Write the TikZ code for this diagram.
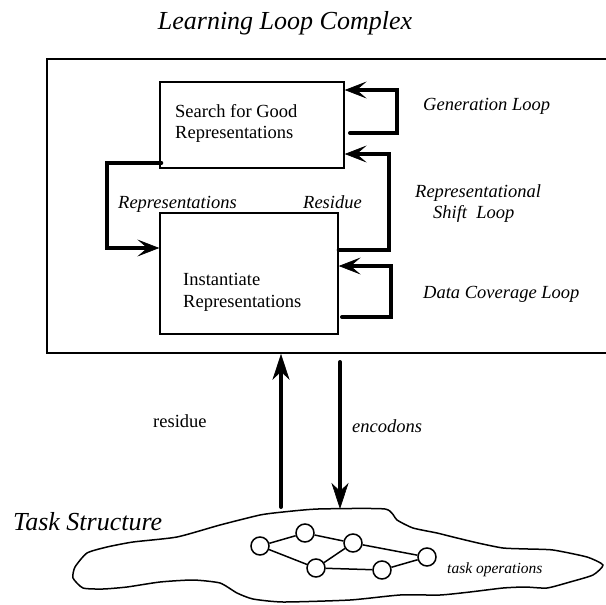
\documentclass[tikz,border=0pt]{standalone}
\usepackage{fontspec}
\setmainfont{Liberation Serif}
\usetikzlibrary{arrows.meta}

\begin{document}
\begin{tikzpicture}[x=1pt,y=-1pt,
  frame/.style={draw, line width=1.5pt, inner sep=0pt},
  procbox/.style={draw, line width=1.4pt, inner sep=0pt},
  boxtext/.style={font=\fontsize{18.5}{21}\selectfont, inner sep=0pt, anchor=base west},
  looplabel/.style={font=\fontsize{18.5}{21}\selectfont\itshape, inner sep=0pt, anchor=base west},
  bigtitle/.style={font=\fontsize{26}{30}\selectfont\itshape, inner sep=0pt},
  loopline/.style={line width=4pt, line cap=round,
    -{Stealth[length=22pt,width=17pt,inset=10pt,line width=0.6pt]}},
  flowarrow/.style={line width=4pt, line cap=round,
    -{Stealth[length=26pt,width=17pt,inset=8pt,line width=0.6pt]}},
  taskop/.style={circle, draw, line width=1.5pt, minimum size=18pt, inner sep=0pt, fill=white},
  taskedge/.style={line width=1.5pt}
]
\useasboundingbox (0,0) rectangle (605,605);

% heading
\node[bigtitle, anchor=base] (title) at (285,29) {Learning Loop Complex};

% outer frame of the learning loop complex (runs off the right edge)
\node[frame, minimum width=561pt, minimum height=294pt] (complex) at (327.5,206) {};

% the two processes
\node[procbox, minimum width=184pt, minimum height=86pt] (search) at (252,125) {};
\node[boxtext] (searchA) at (175,117) {Search for Good};
\node[boxtext] (searchB) at (175,138) {Representations};

\node[procbox, minimum width=178pt, minimum height=121pt] (inst) at (249,273.5) {};
\node[boxtext] (instA) at (183,285) {Instantiate};
\node[boxtext] (instB) at (183,307) {Representations};

% loops
\coordinate (genstart) at (350,133);
\draw[loopline] (genstart) -- ++(47,0) |- ([yshift=35pt]search.east);

\draw[loopline] ([yshift=23.5pt]inst.east) -- ++(50,0) |- ([yshift=-29pt]search.east);

\coordinate (datastart) at (342,317);
\draw[loopline] (datastart) -- ++(49,0) |- ([yshift=7.5pt]inst.east);

\draw[loopline] ([xshift=2pt,yshift=-38pt]search.west) -- ++(-54,0) |- ([yshift=25.5pt]inst.west);

% loop labels
\node[looplabel] (lblRep) at (118,208) {Representations};
\node[looplabel] (lblRes) at (303,208) {Residue};
\node[looplabel] (lblGen) at (423,110) {Generation Loop};
\node[looplabel] (lblShiftA) at (415,197) {Representational};
\node[looplabel] (lblShiftB) at (433,218) {Shift\ \ Loop};
\node[looplabel] (lblData) at (423,298) {Data Coverage Loop};

% task structure outline
\draw[line width=1.5pt, line join=round]
  plot[smooth cycle, tension=0.35] coordinates {
  (318,509) (385,509) (397,520) (413,528) (437,533) (453,537) (478,543)
  (503,548) (528,549) (553,550) (587,557) (603,565) (593,575) (570,582)
  (547,588) (525,587) (503,588) (470,592) (440,595) (400,595) (350,600)
  (283,602) (253,599) (237,593) (220,583) (193,580) (160,582) (127,587)
  (103,589) (83,588) (73,578) (75,567) (87,553) (107,547) (133,542)
  (177,537) (220,525) (260,515) (283,512)};
\node[bigtitle, anchor=base west] (task) at (13,530) {Task Structure};

% task operations graph
\node[taskop] (n1) at (260,546) {};
\node[taskop] (n2) at (305,533) {};
\node[taskop] (n3) at (353,543) {};
\node[taskop] (n4) at (427,557) {};
\node[taskop] (n5) at (316,568) {};
\node[taskop] (n6) at (382,570) {};
\draw[taskedge] (n1) -- (n2);
\draw[taskedge] (n2) -- (n3);
\draw[taskedge] (n1) -- (n5);
\draw[taskedge] (n5) -- (n3);
\draw[taskedge] (n3) -- (n4);
\draw[taskedge] (n5) -- (n6);
\draw[taskedge] (n6) -- (n4);
\node[font=\fontsize{15.5}{18}\selectfont\itshape, inner sep=0pt, anchor=base west] (ops) at (447,573) {task operations};

% exchange between task structure and loop complex
\coordinate (resfoot) at (281,507);
\coordinate (encstart) at (340,362);
\coordinate (encfoot) at (340,509);
\draw[flowarrow] (resfoot) -- (resfoot |- complex.south);
\draw[flowarrow] (encstart) -- (encfoot);
\node[font=\fontsize{18.5}{21}\selectfont, inner sep=0pt, anchor=base west] (lblResidue) at (153,427) {residue};
\node[looplabel] (lblEnc) at (352,432) {encodons};
\end{tikzpicture}
\end{document}
